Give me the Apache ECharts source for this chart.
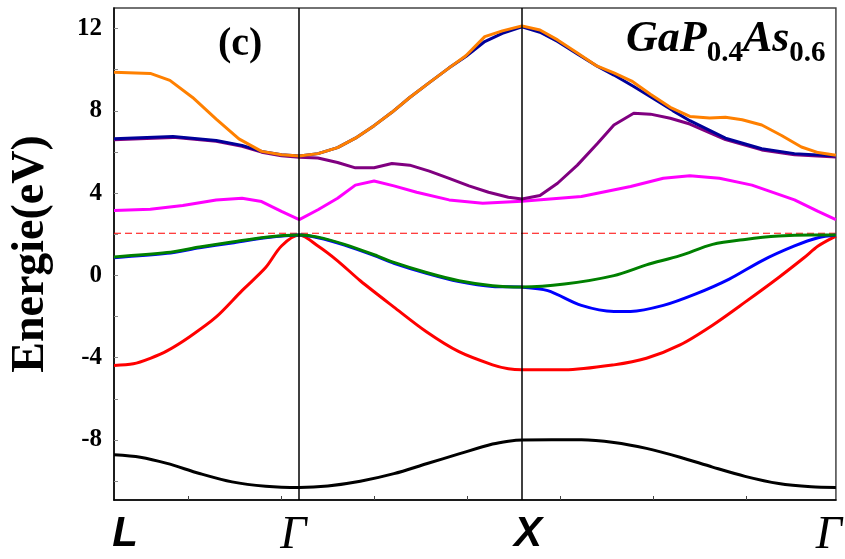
<!DOCTYPE html>
<html>
<head>
<meta charset="utf-8">
<script src="https://cdn.jsdelivr.net/npm/echarts@6/dist/echarts.min.js"></script>
<style>
  html, body { margin: 0; padding: 0; background: #fff; }
  #chart { width: 845px; height: 559px; }
</style>
</head>
<body>
<div id="chart"></div>
<script>
// High-symmetry points along the k-path L - Γ - X - Γ
const kPoints = [0, 0.832, 1.832, 3.242];
const kLabels = ['L', 'Γ', 'X', 'Γ'];
const kTicks = [0.335, 0.752, 1.169, 1.585, 2.005, 2.421, 2.838];

// Energy axis tick labels (eV)
const energyLabels = [-8, -4, 0, 4, 8, 12];
const energyTicks = [-10, -8, -6, -4, -2, 0, 2, 4, 6, 8, 10, 12];
const fermiLevel = 2.05;

// Band energies [k, E (eV)]
const band1 = [
  [0, -8.72], [0.118, -8.84], [0.238, -9.14], [0.384, -9.63], [0.530, -10.04], [0.681, -10.25], [0.832, -10.31],
  [0.960, -10.24], [1.106, -10.01], [1.257, -9.64], [1.403, -9.16], [1.549, -8.68], [1.700, -8.20], [1.771, -8.06], [1.832, -8.00],
  [2.099, -7.99], [2.245, -8.12], [2.391, -8.41], [2.542, -8.84], [2.688, -9.32], [2.834, -9.77], [2.985, -10.12], [3.131, -10.28], [3.242, -10.31]
];
const band2 = [
  [0, -4.38], [0.087, -4.30], [0.163, -4.03], [0.238, -3.67], [0.340, -2.98], [0.459, -2.02], [0.575, -0.74], [0.681, 0.38], [0.752, 1.43], [0.832, 1.96],
  [0.916, 1.43], [1.004, 0.71], [1.106, -0.26], [1.257, -1.54], [1.403, -2.74], [1.549, -3.71], [1.700, -4.35], [1.771, -4.54], [1.832, -4.59],
  [2.023, -4.59], [2.245, -4.35], [2.391, -4.03], [2.542, -3.38], [2.688, -2.42], [2.834, -1.30], [2.985, -0.10], [3.100, 0.87], [3.162, 1.43], [3.242, 1.91]
];
const band3 = [
  [0, 0.86], [0.238, 1.07], [0.384, 1.34], [0.530, 1.58], [0.681, 1.83], [0.832, 1.96],
  [0.916, 1.83], [1.035, 1.47], [1.182, 0.91], [1.257, 0.59], [1.403, 0.10], [1.549, -0.30], [1.700, -0.54], [1.832, -0.57],
  [1.948, -0.74], [2.099, -1.46], [2.245, -1.75], [2.320, -1.75], [2.467, -1.46], [2.613, -0.90], [2.763, -0.18], [2.909, 0.71], [3.056, 1.43], [3.162, 1.83], [3.242, 1.96]
];
const band4 = [
  [0, 0.90], [0.238, 1.11], [0.384, 1.38], [0.530, 1.62], [0.681, 1.86], [0.832, 1.96],
  [0.916, 1.86], [1.035, 1.51], [1.182, 0.95], [1.257, 0.63], [1.403, 0.14], [1.549, -0.26], [1.700, -0.50], [1.832, -0.56],
  [2.023, -0.42], [2.245, -0.01], [2.391, 0.51], [2.542, 0.96], [2.688, 1.51], [2.834, 1.75], [2.985, 1.91], [3.131, 1.96], [3.242, 1.96]
];
const band5 = [
  [0, 3.16], [0.163, 3.22], [0.309, 3.40], [0.459, 3.67], [0.575, 3.75], [0.663, 3.59], [0.752, 3.11], [0.832, 2.71],
  [0.916, 3.19], [1.004, 3.75], [1.084, 4.39], [1.168, 4.59], [1.257, 4.35], [1.359, 4.04], [1.505, 3.67], [1.656, 3.51], [1.832, 3.60],
  [2.099, 3.84], [2.320, 4.32], [2.467, 4.72], [2.586, 4.85], [2.719, 4.72], [2.865, 4.39], [3.056, 3.67], [3.162, 3.11], [3.242, 2.71]
];
const band6 = [
  [0, 6.60], [0.265, 6.71], [0.459, 6.52], [0.575, 6.28], [0.663, 5.99], [0.752, 5.82], [0.832, 5.74],
  [0.916, 5.71], [1.004, 5.49], [1.084, 5.23], [1.168, 5.23], [1.248, 5.44], [1.328, 5.36], [1.416, 5.07], [1.505, 4.72], [1.594, 4.35], [1.682, 4.04], [1.771, 3.80], [1.832, 3.71],
  [1.913, 3.88], [1.992, 4.48], [2.081, 5.36], [2.170, 6.40], [2.245, 7.31], [2.334, 7.88], [2.409, 7.84], [2.498, 7.64], [2.586, 7.36], [2.746, 6.60], [2.909, 6.10], [3.056, 5.86], [3.242, 5.76]
];
const band7 = [
  [0, 6.64], [0.265, 6.75], [0.459, 6.56], [0.575, 6.32], [0.663, 6.03], [0.752, 5.87], [0.832, 5.81],
  [0.916, 5.92], [1.004, 6.21], [1.084, 6.67], [1.168, 7.28], [1.248, 7.93], [1.328, 8.65], [1.416, 9.37], [1.505, 10.09], [1.580, 10.64], [1.665, 11.37], [1.744, 11.77], [1.832, 12.09],
  [1.913, 11.82], [1.992, 11.37], [2.081, 10.77], [2.170, 10.17], [2.245, 9.74], [2.334, 9.18], [2.422, 8.60], [2.511, 8.00], [2.586, 7.52], [2.746, 6.67], [2.909, 6.16], [3.056, 5.92], [3.242, 5.81]
];
const band8 = [
  [0, 9.88], [0.163, 9.82], [0.251, 9.48], [0.353, 8.65], [0.459, 7.60], [0.561, 6.64], [0.663, 6.03], [0.752, 5.87], [0.832, 5.81],
  [0.916, 5.92], [1.004, 6.21], [1.084, 6.67], [1.168, 7.28], [1.248, 7.93], [1.328, 8.65], [1.416, 9.37], [1.505, 10.09], [1.580, 10.68], [1.665, 11.61], [1.744, 11.89], [1.832, 12.13],
  [1.913, 11.93], [1.992, 11.45], [2.081, 10.81], [2.165, 10.20], [2.245, 9.85], [2.325, 9.45], [2.409, 8.81], [2.498, 8.17], [2.586, 7.73], [2.675, 7.65], [2.746, 7.69], [2.821, 7.57], [2.909, 7.31], [2.998, 6.80], [3.087, 6.24], [3.162, 5.97], [3.242, 5.84]
];

const bands = [
  { data: band1, color: '#000000', smooth: 0.3 },
  { data: band2, color: '#FF0000', smooth: 0.3 },
  { data: band3, color: '#0000FF', smooth: 0.3 },
  { data: band4, color: '#008000', smooth: 0.3 },
  { data: band5, color: '#FF00FF', smooth: false },
  { data: band6, color: '#800080', smooth: false },
  { data: band7, color: '#000099', smooth: false },
  { data: band8, color: '#FF8000', smooth: false }
];

const serif = '"Liberation Serif", "Times New Roman", serif';
const sans = '"Liberation Sans", Arial, sans-serif';
const labelStyles = ['l', 'g1', 'x', 'g2'];

const chart = echarts.init(document.getElementById('chart'), null, { renderer: 'canvas' });

const series = bands.map((b, i) => ({
  type: 'line',
  data: b.data,
  smooth: b.smooth,
  showSymbol: false,
  symbol: 'none',
  silent: true,
  z: 2 + i * 0.01,
  itemStyle: { color: b.color },
  lineStyle: { color: b.color, width: 3 },
  animation: false
}));

// Fermi level
series.push({
  type: 'line',
  data: [[kPoints[0], fermiLevel], [kPoints[kPoints.length - 1], fermiLevel]],
  symbol: 'none',
  silent: true,
  z: 1,
  itemStyle: { color: '#FF0000' },
  lineStyle: { color: '#FF0000', width: 1.2, type: [7, 4] },
  animation: false
});

// Vertical lines at the interior high-symmetry points
series.push({
  type: 'line',
  data: [],
  silent: true,
  z: 4,
  markLine: {
    silent: true,
    symbol: 'none',
    label: { show: false },
    animation: false,
    lineStyle: { color: '#000', width: 1.5, type: 'solid' },
    data: kPoints.slice(1, 3).map(k => ({ xAxis: k }))
  }
});

chart.setOption({
  animation: false,
  backgroundColor: '#fff',
  grid: {
    left: 113, right: 0, top: 8, bottom: 54,
    show: true, borderColor: '#444', borderWidth: 1.5, backgroundColor: 'transparent'
  },
  xAxis: {
    type: 'value',
    min: kPoints[0],
    max: kPoints[kPoints.length - 1],
    axisLine: { show: true, onZero: false, lineStyle: { color: '#000', width: 1.5 } },
    splitLine: { show: false },
    axisTick: { show: true, inside: true, length: 4, customValues: kTicks, lineStyle: { color: '#444', width: 1 } },
    axisLabel: {
      show: true,
      margin: 13,
      customValues: kPoints,
      formatter: (v) => {
        const i = kPoints.indexOf(v);
        return i < 0 ? '' : '{' + labelStyles[i] + '|' + kLabels[i] + '}';
      },
      rich: {
        l: { fontFamily: sans, fontWeight: 'bold', fontStyle: 'italic', fontSize: 42, color: '#000', padding: [0, 0, 0, 22] },
        g1: { fontFamily: serif, fontStyle: 'italic', fontSize: 46, color: '#000', padding: [0, 12, 0, 0] },
        x: { fontFamily: sans, fontWeight: 'bold', fontStyle: 'italic', fontSize: 42, color: '#000', padding: [0, 0, 0, 12] },
        g2: { fontFamily: serif, fontStyle: 'italic', fontSize: 46, color: '#000', padding: [0, 14, 0, 0] }
      }
    }
  },
  yAxis: {
    type: 'value',
    min: -10.92,
    max: 13,
    name: 'Energie(eV)',
    nameLocation: 'middle',
    nameGap: 60,
    nameTextStyle: { fontFamily: serif, fontWeight: 'bold', fontSize: 46, color: '#000' },
    axisLine: { show: true, onZero: false, lineStyle: { color: '#000', width: 1.5 } },
    splitLine: { show: false },
    axisTick: { show: true, inside: true, length: 4, customValues: energyTicks, lineStyle: { color: '#888', width: 1 } },
    axisLabel: {
      show: true,
      margin: 12,
      customValues: energyLabels,
      fontFamily: serif,
      fontWeight: 'bold',
      fontSize: 25,
      color: '#000'
    }
  },
  graphic: [
    {
      type: 'text',
      left: 218, top: 25,
      style: { text: '(c)', font: 'bold 40px ' + serif, fill: '#000' }
    },
    {
      type: 'text',
      left: 626, top: 18,
      style: {
        text: '{m|GaP}{s|0.4}{m|As}{s|0.6}',
        rich: {
          m: { fontFamily: serif, fontWeight: 'bold', fontStyle: 'italic', fontSize: 44, lineHeight: 46, padding: [0, 0, 10, 0], fill: '#000' },
          s: { fontFamily: serif, fontWeight: 'bold', fontStyle: 'normal', fontSize: 29, lineHeight: 29, verticalAlign: 'bottom', fill: '#000' }
        }
      }
    }
  ],
  series: series
});
</script>
</body>
</html>
